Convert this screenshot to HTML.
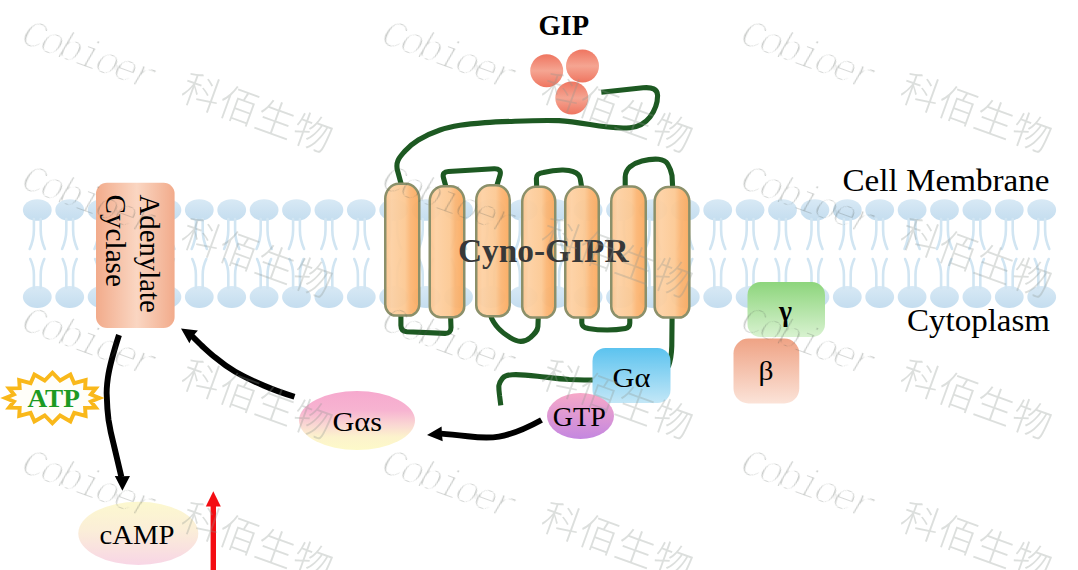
<!DOCTYPE html>
<html><head><meta charset="utf-8"><title>Cyno-GIPR signaling</title>
<style>
html,body{margin:0;padding:0;background:#fff;}
body{width:1078px;height:570px;overflow:hidden;font-family:"Liberation Serif",serif;}
svg{display:block}
</style></head><body>
<svg width="1078" height="570" viewBox="0 0 1078 570">
<rect width="1078" height="570" fill="#fff"/>

<defs>
<linearGradient id="gHead" x1="0" y1="0" x2="0" y2="1"><stop offset="0" stop-color="#d8e9f5"/><stop offset="1" stop-color="#c4ddef"/></linearGradient>
<linearGradient id="gHelix" x1="0" y1="0" x2="1" y2="0"><stop offset="0" stop-color="#fcc48e"/><stop offset="0.18" stop-color="#fdd0a2"/><stop offset="0.58" stop-color="#fcc892"/><stop offset="0.74" stop-color="#fbb573"/><stop offset="1" stop-color="#faa95d"/></linearGradient>
<linearGradient id="gAC" x1="0" y1="0" x2="1" y2="0"><stop offset="0" stop-color="#f2ab8b"/><stop offset="0.52" stop-color="#fad6c2"/><stop offset="1" stop-color="#f2ab8b"/></linearGradient>
<linearGradient id="gGa" x1="0" y1="0" x2="0" y2="1"><stop offset="0" stop-color="#5cc3ef"/><stop offset="1" stop-color="#c3e7f7"/></linearGradient>
<linearGradient id="gGTP" x1="0" y1="0" x2="0" y2="1"><stop offset="0" stop-color="#f7a9c8"/><stop offset="1" stop-color="#c487e0"/></linearGradient>
<linearGradient id="gGas" x1="0" y1="0" x2="0" y2="1"><stop offset="0" stop-color="#f6a9ce"/><stop offset="0.33" stop-color="#f7b4d1"/><stop offset="0.58" stop-color="#fad8d3"/><stop offset="0.78" stop-color="#fcf3cc"/><stop offset="1" stop-color="#fdf9c9"/></linearGradient>
<linearGradient id="gCamp" x1="0" y1="0" x2="0" y2="1"><stop offset="0" stop-color="#fcf8cf"/><stop offset="0.45" stop-color="#fbeed8"/><stop offset="1" stop-color="#f8d6e6"/></linearGradient>
<linearGradient id="gGamma" x1="0" y1="0" x2="0" y2="1"><stop offset="0" stop-color="#8dd57c"/><stop offset="1" stop-color="#d8f2d0"/></linearGradient>
<linearGradient id="gBeta" x1="0" y1="0" x2="0" y2="1"><stop offset="0" stop-color="#efa385"/><stop offset="1" stop-color="#fbe3d8"/></linearGradient>
<linearGradient id="gGip" x1="0" y1="0" x2="0" y2="1"><stop offset="0" stop-color="#ef7560"/><stop offset="0.5" stop-color="#f5a592"/><stop offset="1" stop-color="#ef7560"/></linearGradient>
<filter id="soft" x="-10%" y="-10%" width="120%" height="120%"><feGaussianBlur stdDeviation="0.55"/></filter>
<filter id="thin" x="-5%" y="-20%" width="110%" height="140%"><feMorphology operator="erode" radius="0.5"/></filter>
<g id="lipT"><ellipse cx="0" cy="0" rx="14.4" ry="10.8" fill="url(#gHead)"/><path d="M-3.4 9 V20 C-3.4 28 -5 33 -7.6 39 M3.4 9 V20 C3.4 28 5 33 7.6 39" fill="none" stroke="#d1e5f2" stroke-width="2.6" stroke-linecap="round"/></g>
<g id="lipB"><ellipse cx="0" cy="0" rx="14.4" ry="11" fill="url(#gHead)"/><path d="M-3.4 -9 V-22 C-3.4 -29 -4.6 -33 -7 -38 M3.4 -9 V-22 C3.4 -29 4.6 -33 7 -38" fill="none" stroke="#d1e5f2" stroke-width="2.6" stroke-linecap="round"/></g>
<g id="wm" fill="#8e9690"><text x="-10" y="5" font-family="Liberation Mono, monospace" font-style="italic" font-size="40" fill="#4f5751" filter="url(#thin)" textLength="141" lengthAdjust="spacing">Cobioer</text><text x="159 198.5 238 277.5" y="3" font-family="'Liberation Sans', 'Noto Sans CJK SC', sans-serif" font-weight="300" font-size="39" fill="#8e9690">科佰生物</text></g>
</defs>
<use href="#lipT" x="37.3" y="210"/><use href="#lipB" x="37.3" y="297"/>
<use href="#lipT" x="69.7" y="210"/><use href="#lipB" x="69.7" y="297"/>
<use href="#lipT" x="102.1" y="210"/><use href="#lipB" x="102.1" y="297"/>
<use href="#lipT" x="134.5" y="210"/><use href="#lipB" x="134.5" y="297"/>
<use href="#lipT" x="166.9" y="210"/><use href="#lipB" x="166.9" y="297"/>
<use href="#lipT" x="199.3" y="210"/><use href="#lipB" x="199.3" y="297"/>
<use href="#lipT" x="231.7" y="210"/><use href="#lipB" x="231.7" y="297"/>
<use href="#lipT" x="264.1" y="210"/><use href="#lipB" x="264.1" y="297"/>
<use href="#lipT" x="296.5" y="210"/><use href="#lipB" x="296.5" y="297"/>
<use href="#lipT" x="328.9" y="210"/><use href="#lipB" x="328.9" y="297"/>
<use href="#lipT" x="361.3" y="210"/><use href="#lipB" x="361.3" y="297"/>
<use href="#lipT" x="393.7" y="210"/><use href="#lipB" x="393.7" y="297"/>
<use href="#lipT" x="426.1" y="210"/><use href="#lipB" x="426.1" y="297"/>
<use href="#lipT" x="458.5" y="210"/><use href="#lipB" x="458.5" y="297"/>
<use href="#lipT" x="490.9" y="210"/><use href="#lipB" x="490.9" y="297"/>
<use href="#lipT" x="523.3" y="210"/><use href="#lipB" x="523.3" y="297"/>
<use href="#lipT" x="555.7" y="210"/><use href="#lipB" x="555.7" y="297"/>
<use href="#lipT" x="588.1" y="210"/><use href="#lipB" x="588.1" y="297"/>
<use href="#lipT" x="620.5" y="210"/><use href="#lipB" x="620.5" y="297"/>
<use href="#lipT" x="652.9" y="210"/><use href="#lipB" x="652.9" y="297"/>
<use href="#lipT" x="685.3" y="210"/><use href="#lipB" x="685.3" y="297"/>
<use href="#lipT" x="717.7" y="210"/><use href="#lipB" x="717.7" y="297"/>
<use href="#lipT" x="750.1" y="210"/><use href="#lipB" x="750.1" y="297"/>
<use href="#lipT" x="782.5" y="210"/><use href="#lipB" x="782.5" y="297"/>
<use href="#lipT" x="814.9" y="210"/><use href="#lipB" x="814.9" y="297"/>
<use href="#lipT" x="847.3" y="210"/><use href="#lipB" x="847.3" y="297"/>
<use href="#lipT" x="879.7" y="210"/><use href="#lipB" x="879.7" y="297"/>
<use href="#lipT" x="912.1" y="210"/><use href="#lipB" x="912.1" y="297"/>
<use href="#lipT" x="944.5" y="210"/><use href="#lipB" x="944.5" y="297"/>
<use href="#lipT" x="976.9" y="210"/><use href="#lipB" x="976.9" y="297"/>
<use href="#lipT" x="1009.3" y="210"/><use href="#lipB" x="1009.3" y="297"/>
<use href="#lipT" x="1041.7" y="210"/><use href="#lipB" x="1041.7" y="297"/>
<path fill="none" stroke="#1d5922" stroke-width="5.1" stroke-linecap="butt" stroke-linejoin="round" d="M601.3 92.3 L643 87.8 C652 87 657.5 89 657.6 95.5 C657.6 103 654.5 111 650 117 C645 123.5 638 127 630 127.7 C618 128.6 604 127 590 124.6 C578 122.5 568 121 559 120.6 C545 120.2 530 120.6 515 121.2 C504 121.6 494 122 485 122.6 C476 123.3 468 124 460 125.3 C453 126.5 446 128 440 130 C432 132.7 425 136 418.3 140 C413 143.3 408.5 147 405 151 C402 154.5 399.5 157 398 160.5 C396.5 164 396.6 167 397.5 170.5 L401.3 184.5"/>
<path fill="none" stroke="#1d5922" stroke-width="5.1" stroke-linecap="butt" stroke-linejoin="round" d="M446 187 L443.4 177.5 Q442 172 448.5 171.5 L494 168.8 Q501.5 168.4 500.2 174.5 L496.6 186.5"/>
<path fill="none" stroke="#1d5922" stroke-width="5.1" stroke-linecap="butt" stroke-linejoin="round" d="M536.7 187.5 L536.4 178.5 C536.4 174.5 539 173.3 543.4 172.6 C550 171 556 170.2 562 170 C566 169.9 570 170.3 573.4 171.7 C577.5 173 579.6 175 580.2 178.5 L581.7 187.5"/>
<path fill="none" stroke="#1d5922" stroke-width="5.1" stroke-linecap="butt" stroke-linejoin="round" d="M625.2 187.5 L625.2 177 C625.3 172.5 627 169.5 630.2 166.7 C633.5 164 637.5 162 642 160.9 C647.5 159.5 653 158.8 658.6 159.2 C663.2 159.6 666 161 667.8 164.2 C669.8 167.5 671.2 171 672 175.5 L672.7 187.8"/>
<path fill="none" stroke="#1d5922" stroke-width="5.1" stroke-linecap="butt" stroke-linejoin="round" d="M400.9 315 L400.9 325.5 Q401 331.3 407 331.8 L444.8 333.4 Q451 333.6 451 327.5 L450.6 316.5"/>
<path fill="none" stroke="#1d5922" stroke-width="5.1" stroke-linecap="butt" stroke-linejoin="round" d="M490.6 315.5 C492 320 494.5 324 498.5 328.4 C502 332.3 506 335 510.2 337.6 C513.5 339.6 517 341.3 520.6 341.4 C524 341.5 527.5 340 530.3 337.6 C534.5 334 537.5 331.5 537.9 326.5 L538.3 317"/>
<path fill="none" stroke="#1d5922" stroke-width="5.1" stroke-linecap="butt" stroke-linejoin="round" d="M581.8 317 L581.8 323 Q582 327.6 588.1 328.4 Q607 331.5 625.5 328.5 Q629.8 327.8 629.8 323 L629.8 317"/>
<path fill="none" stroke="#1d5922" stroke-width="5.1" stroke-linecap="butt" stroke-linejoin="round" d="M672.1 317 L671.8 346 Q671.5 358 668.3 367"/>
<path fill="none" stroke="#1d5922" stroke-width="5.1" stroke-linecap="butt" stroke-linejoin="round" d="M600 380 C588 380 578 379.8 569.2 379.5 C558 378.8 548 377.3 537.6 376.2 C529 375.2 520 374.3 512.4 374.7 C507.5 375 504.5 375.8 502.9 377.9 C500.5 381 499.3 382 498.9 385.5 C498.6 389 499.3 393 499.6 396 L500.8 405.3"/>
<path d="M385.25 198.85 A13.5 15 0 0 1 398.75 183.85 H405.75 A13.5 15 0 0 1 419.25 198.85 V304.55 A10.5 11 0 0 1 408.75 315.55 H395.75 A10.5 11 0 0 1 385.25 304.55 Z" fill="url(#gHelix)" fill-opacity="0.94" stroke="#8b906a" stroke-width="2.5"/>
<path d="M429.75 201.25 A13.5 15 0 0 1 443.25 186.25 H450.75 A13.5 15 0 0 1 464.25 201.25 V306.15 A10.5 11 0 0 1 453.75 317.15 H440.25 A10.5 11 0 0 1 429.75 306.15 Z" fill="url(#gHelix)" fill-opacity="0.94" stroke="#8b906a" stroke-width="2.5"/>
<path d="M476.25 200.25 A13.5 15 0 0 1 489.75 185.25 H496.25 A13.5 15 0 0 1 509.75 200.25 V305.15 A10.5 11 0 0 1 499.25 316.15 H486.75 A10.5 11 0 0 1 476.25 305.15 Z" fill="url(#gHelix)" fill-opacity="0.94" stroke="#8b906a" stroke-width="2.5"/>
<path d="M522.25 201.85 A13.5 15 0 0 1 535.75 186.85 H541.75 A13.5 15 0 0 1 555.25 201.85 V306.55 A10.5 11 0 0 1 544.75 317.55 H532.75 A10.5 11 0 0 1 522.25 306.55 Z" fill="url(#gHelix)" fill-opacity="0.94" stroke="#8b906a" stroke-width="2.5"/>
<path d="M565.25 201.85 A13.5 15 0 0 1 578.75 186.85 H585.25 A13.5 15 0 0 1 598.75 201.85 V306.55 A10.5 11 0 0 1 588.25 317.55 H575.75 A10.5 11 0 0 1 565.25 306.55 Z" fill="url(#gHelix)" fill-opacity="0.94" stroke="#8b906a" stroke-width="2.5"/>
<path d="M611.25 201.55 A13.5 15 0 0 1 624.75 186.55 H632.25 A13.5 15 0 0 1 645.75 201.55 V306.55 A10.5 11 0 0 1 635.25 317.55 H621.75 A10.5 11 0 0 1 611.25 306.55 Z" fill="url(#gHelix)" fill-opacity="0.94" stroke="#8b906a" stroke-width="2.5"/>
<path d="M654.65 202.05 A13.5 15 0 0 1 668.15 187.05 H675.85 A13.5 15 0 0 1 689.35 202.05 V306.55 A10.5 11 0 0 1 678.85 317.55 H665.15 A10.5 11 0 0 1 654.65 306.55 Z" fill="url(#gHelix)" fill-opacity="0.94" stroke="#8b906a" stroke-width="2.5"/>
<rect x="96" y="182.8" width="78.6" height="145.2" rx="11" fill="url(#gAC)" filter="url(#soft)"/>
<text transform="translate(140.2 194.5) rotate(90)" font-family="Liberation Serif, serif" font-size="28.8" fill="#000">Adenylate</text>
<text transform="translate(106 194.5) rotate(90)" font-family="Liberation Serif, serif" font-size="29.2" fill="#000">Cyclase</text>
<rect x="592.5" y="348" width="78" height="55" rx="13" fill="url(#gGa)" filter="url(#soft)"/>
<ellipse cx="580.5" cy="416" rx="33.5" ry="23" fill="url(#gGTP)" filter="url(#soft)"/>
<rect x="747.5" y="282" width="77.5" height="55" rx="13" fill="url(#gGamma)" filter="url(#soft)"/>
<rect x="733.5" y="338.6" width="65.8" height="64.8" rx="15" fill="url(#gBeta)" filter="url(#soft)"/>
<ellipse cx="357" cy="420.5" rx="58" ry="29.5" fill="url(#gGas)" filter="url(#soft)"/>
<ellipse cx="138.3" cy="533.4" rx="60" ry="31.6" fill="url(#gCamp)" filter="url(#soft)"/>
<circle cx="546.7" cy="70.7" r="16.5" fill="url(#gGip)"/>
<circle cx="582.5" cy="66" r="16.5" fill="url(#gGip)"/>
<circle cx="571.8" cy="98" r="16.5" fill="url(#gGip)"/>
<path fill="none" stroke="#000" stroke-width="5.9" stroke-linecap="butt" d="M119 335 C114.5 349 110 363 107.9 377.6 C106.6 387 106.4 392 106.8 396.6 C107 405 107.5 412 108.5 419.7 C109.8 428 111.5 436 113.6 444 L121.4 477"/>
<polygon fill="#000" points="122.4,490.7 114.8,475.9 122.4,476.2 130.0,475.9"/>
<path fill="none" stroke="#000" stroke-width="5.9" stroke-linecap="butt" d="M294.5 396.8 C284 393.5 274 390 263.6 385.5 C253 381 244 376.8 235.3 371.8 C228 367.5 221.5 362.8 215.3 357.6 C210 353.3 206 349.5 201.6 345.5 C198 342 195.5 339.5 192 336"/>
<polygon fill="#000" points="181.0,328.4 197.9,330.4 192.8,336.3 189.4,343.2"/>
<path fill="none" stroke="#000" stroke-width="5.9" stroke-linecap="butt" d="M541.5 420 C527 428 514 434 499 436.6 C488 438.5 477 437.4 467.6 436.3 C458 435.2 450 434.3 441 433.6"/>
<polygon fill="#000" points="427.0,435.0 441.6,426.6 441.9,434.0 442.7,441.3"/>
<rect x="210.6" y="504" width="5.4" height="66" fill="#f40d12"/>
<polygon fill="#f40d12" points="213.3,491.2 220.8,506.5 205.8,506.5"/>
<polygon fill="#fffef9" stroke="#f9b81a" stroke-width="3.9" stroke-linejoin="miter" stroke-miterlimit="4" points="52.4,372.7 60.1,380.5 70.4,374.6 74.2,383.2 85.6,380.1 85.1,388.1 95.8,388.3 90.9,394.5 99.4,398.0 90.9,401.5 95.8,407.7 85.1,407.9 85.6,415.9 74.2,412.8 70.4,421.4 60.1,415.5 52.4,423.3 44.7,415.5 34.4,421.4 30.6,412.8 19.2,415.9 19.7,407.9 9.0,407.7 13.9,401.5 5.4,398.0 13.9,394.5 9.0,388.3 19.7,388.1 19.2,380.1 30.6,383.2 34.4,374.6 44.7,380.5"/>
<text x="27.4" y="407.4" font-family="Liberation Serif, serif" font-weight="bold" font-size="26" fill="#1d9a22" textLength="52.5" lengthAdjust="spacingAndGlyphs">ATP</text>
<text x="538.5" y="34.7" text-anchor="start" font-family="Liberation Serif, serif" font-weight="bold" font-size="28.5" fill="#000" textLength="50.5" lengthAdjust="spacingAndGlyphs">GIP</text>
<text x="842.5" y="191.2" text-anchor="start" font-family="Liberation Serif, serif" font-size="31.5" fill="#000" textLength="207" lengthAdjust="spacingAndGlyphs">Cell Membrane</text>
<text x="907" y="331" text-anchor="start" font-family="Liberation Serif, serif" font-size="32" fill="#000" textLength="143" lengthAdjust="spacingAndGlyphs">Cytoplasm</text>
<text x="458" y="261.6" text-anchor="start" font-family="Liberation Serif, serif" font-weight="bold" font-size="33.5" fill="#383838" textLength="170.5" lengthAdjust="spacingAndGlyphs">Cyno-GIPR</text>
<text x="612.5" y="387" text-anchor="start" font-family="Liberation Serif, serif" font-size="28" fill="#000" textLength="38" lengthAdjust="spacingAndGlyphs">Gα</text>
<text x="552.8" y="425.7" text-anchor="start" font-family="Liberation Serif, serif" font-size="28" fill="#000" textLength="53" lengthAdjust="spacingAndGlyphs">GTP</text>
<text x="332.5" y="431.2" text-anchor="start" font-family="Liberation Serif, serif" font-size="28" fill="#000" textLength="49.5" lengthAdjust="spacingAndGlyphs">Gαs</text>
<text x="99.6" y="543.9" text-anchor="start" font-family="Liberation Serif, serif" font-size="28" fill="#000" textLength="75" lengthAdjust="spacingAndGlyphs">cAMP</text>
<text x="779" y="321" text-anchor="start" font-family="Liberation Serif, serif" font-weight="bold" font-size="28.5" fill="#000" textLength="13" lengthAdjust="spacingAndGlyphs">γ</text>
<text x="758.5" y="380" text-anchor="start" font-family="Liberation Serif, serif" font-size="28" fill="#000" textLength="15" lengthAdjust="spacingAndGlyphs">β</text>
<use href="#wm" transform="translate(30 42) rotate(20)" opacity="0.3"/>
<use href="#wm" transform="translate(390 42) rotate(20)" opacity="0.3"/>
<use href="#wm" transform="translate(749 42) rotate(20)" opacity="0.3"/>
<use href="#wm" transform="translate(30 187) rotate(20)" opacity="0.3"/>
<use href="#wm" transform="translate(390 187) rotate(20)" opacity="0.3"/>
<use href="#wm" transform="translate(749 187) rotate(20)" opacity="0.3"/>
<use href="#wm" transform="translate(30 328.5) rotate(20)" opacity="0.3"/>
<use href="#wm" transform="translate(390 328.5) rotate(20)" opacity="0.3"/>
<use href="#wm" transform="translate(749 328.5) rotate(20)" opacity="0.3"/>
<use href="#wm" transform="translate(30 471) rotate(20)" opacity="0.3"/>
<use href="#wm" transform="translate(390 471) rotate(20)" opacity="0.3"/>
<use href="#wm" transform="translate(749 471) rotate(20)" opacity="0.3"/>
</svg>
</body></html>
